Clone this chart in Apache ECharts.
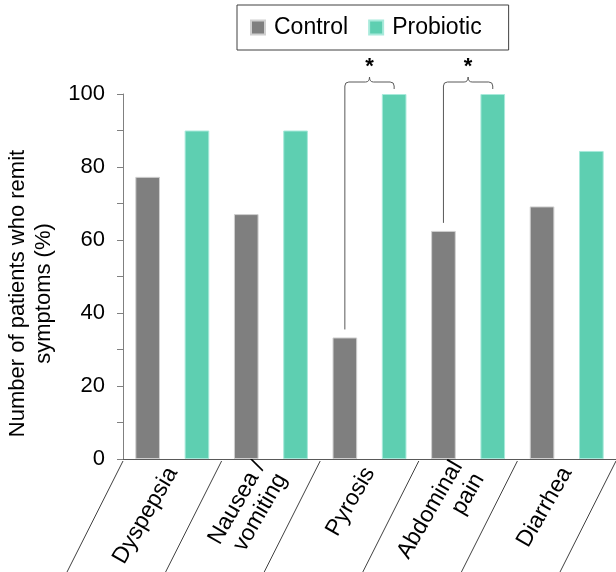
<!DOCTYPE html>
<html>
<head>
<meta charset="utf-8">
<script src="https://cdn.jsdelivr.net/npm/echarts@6/dist/echarts.min.js"></script>
<style>
html,body{margin:0;padding:0;background:#fff;}
#chart{width:616px;height:572px;}
</style>
</head>
<body>
<div id="chart"></div>
<script>
const categories = ['Dyspepsia', 'Nausea /\nvomiting', 'Pyrosis', 'Abdominal\npain', 'Diarrhea'];
const controlValues = [77.3, 67.1, 33.3, 62.5, 69.2];
const probioticValues = [90, 90, 100, 100, 84.4];
const significantIdx = [2, 3];
const yTicks = [0, 20, 40, 60, 80, 100];

const FONT = 'Liberation Sans, Arial, sans-serif';
const chart = echarts.init(document.getElementById('chart'));

function catWidth(api) { return api.size([1, 0])[0]; }

const option = {
  animation: false,
  textStyle: { fontFamily: FONT },
  legend: {
    data: ['Control', 'Probiotic'],
    left: 237, top: 5,
    padding: [11, 27, 11, 13],
    itemGap: 20,
    itemWidth: 14, itemHeight: 14,
    icon: 'rect',
    borderColor: '#404040', borderWidth: 1,
    textStyle: { fontSize: 23, color: '#000', fontFamily: FONT, padding: [0, 0, 0, 4] }
  },
  grid: { left: 123, right: 0, top: 94, bottom: 113, containLabel: false, outerBoundsMode: 'none' },
  xAxis: {
    type: 'category',
    data: categories,
    axisLine: { lineStyle: { color: '#595959', width: 1 } },
    axisTick: { show: false },
    axisLabel: { interval: 0, rotate: 60, fontSize: 23, color: '#000', margin: 10, lineHeight: 25, fontFamily: FONT }
  },
  yAxis: {
    type: 'value', min: 0, max: 100, interval: 10,
    name: 'Number of patients who remit\nsymptoms (%)',
    nameLocation: 'middle', nameGap: 62,
    nameTextStyle: { fontSize: 22, color: '#000', lineHeight: 26, fontFamily: FONT, padding: [0, 34, 0, 0] },
    axisLine: { show: true, lineStyle: { color: '#808080' } },
    axisTick: { show: true, length: 6, lineStyle: { color: '#808080' } },
    splitLine: { show: false },
    axisLabel: {
      fontSize: 22, color: '#000', margin: 18, fontFamily: FONT,
      formatter: v => yTicks.indexOf(v) >= 0 ? String(v) : ''
    }
  },
  series: [
    {
      name: 'Control', type: 'bar', data: controlValues,
      barWidth: '25%', barGap: '100%',
      itemStyle: { color: '#7f7f7f', borderColor: '#d0d0d0', borderWidth: 1 }
    },
    {
      name: 'Probiotic', type: 'bar', data: probioticValues,
      barWidth: '25%', barGap: '100%',
      itemStyle: { color: '#5ecfb1', borderColor: '#a8eadb', borderWidth: 1 }
    },
    {
      name: 'sep', type: 'custom', clip: false, silent: true,
      data: categories.map((c, i) => [i, 0]),
      renderItem: function (params, api) {
        const i = api.value(0);
        const w = catWidth(api);
        const p = api.coord([i, 0]);
        const children = [];
        const xs = [p[0] - w / 2];
        if (i === categories.length - 1) xs.push(p[0] + w / 2);
        xs.forEach(x => {
          children.push({
            type: 'line',
            shape: { x1: x, y1: p[1] + 2, x2: x - 57, y2: p[1] + 115 },
            style: { stroke: '#404040', lineWidth: 1 }
          });
        });
        return { type: 'group', children: children };
      }
    },
    {
      name: 'sig', type: 'custom', clip: false, silent: true,
      data: significantIdx.map(i => [i, controlValues[i], probioticValues[i]]),
      renderItem: function (params, api) {
        const i = api.value(0);
        const w = catWidth(api);
        const c = api.coord([i, 0]);
        const xL = c[0] - w * 0.25;
        const xR = c[0] + w * 0.25;
        const xM = (xL + xR) / 2;
        const yL = api.coord([i, api.value(1)])[1] - 8;
        const topVal = Math.max(api.value(1), api.value(2));
        const yT = api.coord([i, topVal])[1] - 12;
        const r = 4;
        const d = 'M' + xL + ' ' + yL +
          ' L' + xL + ' ' + (yT + r) +
          ' Q' + xL + ' ' + yT + ' ' + (xL + r) + ' ' + yT +
          ' L' + (xM - r) + ' ' + yT +
          ' Q' + xM + ' ' + yT + ' ' + xM + ' ' + (yT - 5) +
          ' Q' + xM + ' ' + yT + ' ' + (xM + r) + ' ' + yT +
          ' L' + (xR - r) + ' ' + yT +
          ' Q' + xR + ' ' + yT + ' ' + xR + ' ' + (yT + r) +
          ' L' + xR + ' ' + (yT + 7);
        return {
          type: 'group',
          children: [
            { type: 'path', shape: { pathData: d }, style: { fill: 'none', stroke: '#595959', lineWidth: 1 } },
            { type: 'text', style: { text: '*', x: xM, y: yT - 4, align: 'center', verticalAlign: 'bottom', font: 'bold 22px ' + FONT, fill: '#000' } }
          ]
        };
      }
    }
  ]
};
chart.setOption(option);
</script>
</body>
</html>
